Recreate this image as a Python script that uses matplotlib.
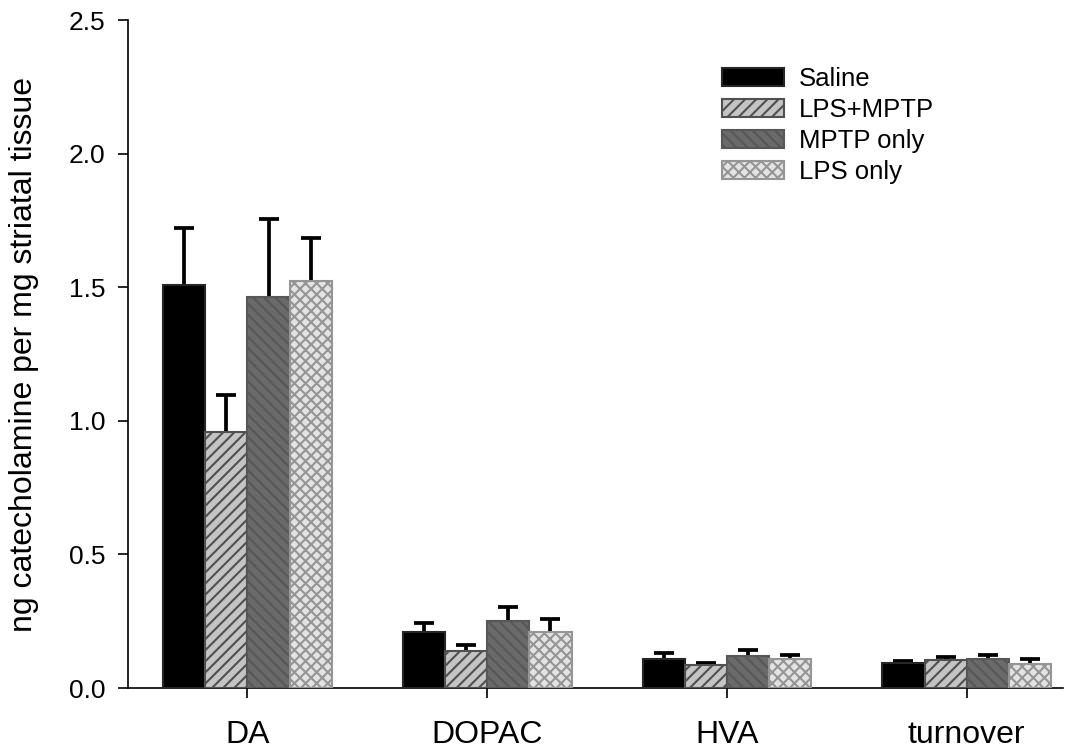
import matplotlib
matplotlib.use("Agg")
import matplotlib.pyplot as plt
import numpy as np

plt.rcParams['font.family'] = ['Liberation Sans', 'DejaVu Sans']
plt.rcParams['hatch.linewidth'] = 1.5

categories = ["DA", "DOPAC", "HVA", "turnover"]
groups = ["Saline", "LPS+MPTP", "MPTP only", "LPS only"]

saline = [1.51, 0.21, 0.11, 0.093]
saline_err = [0.21, 0.035, 0.02, 0.009]
lps_mptp = [0.96, 0.14, 0.085, 0.105]
lps_mptp_err = [0.135, 0.022, 0.01, 0.012]
mptp_only = [1.465, 0.25, 0.12, 0.11]
mptp_only_err = [0.29, 0.053, 0.024, 0.013]
lps_only = [1.525, 0.21, 0.11, 0.09]
lps_only_err = [0.16, 0.05, 0.013, 0.017]

values = [saline, lps_mptp, mptp_only, lps_only]
errors = [saline_err, lps_mptp_err, mptp_only_err, lps_only_err]

# face, edge/hatch colour, hatch pattern per group
styles = [
    ("#000000", "#262626", None),
    ("#c4c4c4", "#505050", "///"),
    ("#6a6a6a", "#575757", "\\\\\\"),
    ("#e3e3e3", "#959595", "xxx"),
]

fig = plt.figure(figsize=(10.81, 7.53), dpi=100)
ax = fig.add_axes([0.118, 0.0863, 0.865, 0.887])

x = np.arange(len(categories))
w = 0.176
handles = []
for i, (vals, errs) in enumerate(zip(values, errors)):
    face, edge, hatch = styles[i]
    pos = x + (i - 1.5) * w
    bars = ax.bar(pos, vals, width=w, color=face, edgecolor=edge,
                  hatch=hatch, linewidth=1.5, zorder=3, label=groups[i])
    handles.append(bars)
    eb = ax.errorbar(pos, vals, yerr=[np.zeros(len(vals)), errs], fmt='none',
                     ecolor='black', elinewidth=2.7, capsize=7, capthick=2.7,
                     zorder=2)
    # only the upper cap is wanted
    eb[1][0].set_visible(False)

ax.set_xlim(-0.5, 3.4)
ax.set_ylim(0, 2.5)
ax.set_xticks(x)
ax.set_xticklabels(categories, fontsize=23)
ax.set_yticks(np.arange(0, 2.51, 0.5))
ax.set_yticklabels([f"{v:.1f}" for v in np.arange(0, 2.51, 0.5)], fontsize=19)
ax.tick_params(axis='both', direction='out', length=7, width=1.2)
ax.tick_params(axis='x', pad=16)
ax.tick_params(axis='y', pad=9)

for s in ['top', 'right']:
    ax.spines[s].set_visible(False)
for s in ['left', 'bottom']:
    ax.spines[s].set_linewidth(1.2)

ax.set_ylabel("ng catecholamine per mg striatal tissue", fontsize=23)
ax.yaxis.set_label_coords(-0.095, 0.5)

ax.legend(handles=handles, loc='upper left',
          bbox_to_anchor=(722 / 1081, 1 - 67 / 753),
          bbox_transform=fig.transFigure, frameon=False, fontsize=18.5,
          handlelength=2.4, handleheight=0.7, handletextpad=0.6,
          labelspacing=0.27, borderpad=0, borderaxespad=0)

fig.savefig("out.png", dpi=100)
